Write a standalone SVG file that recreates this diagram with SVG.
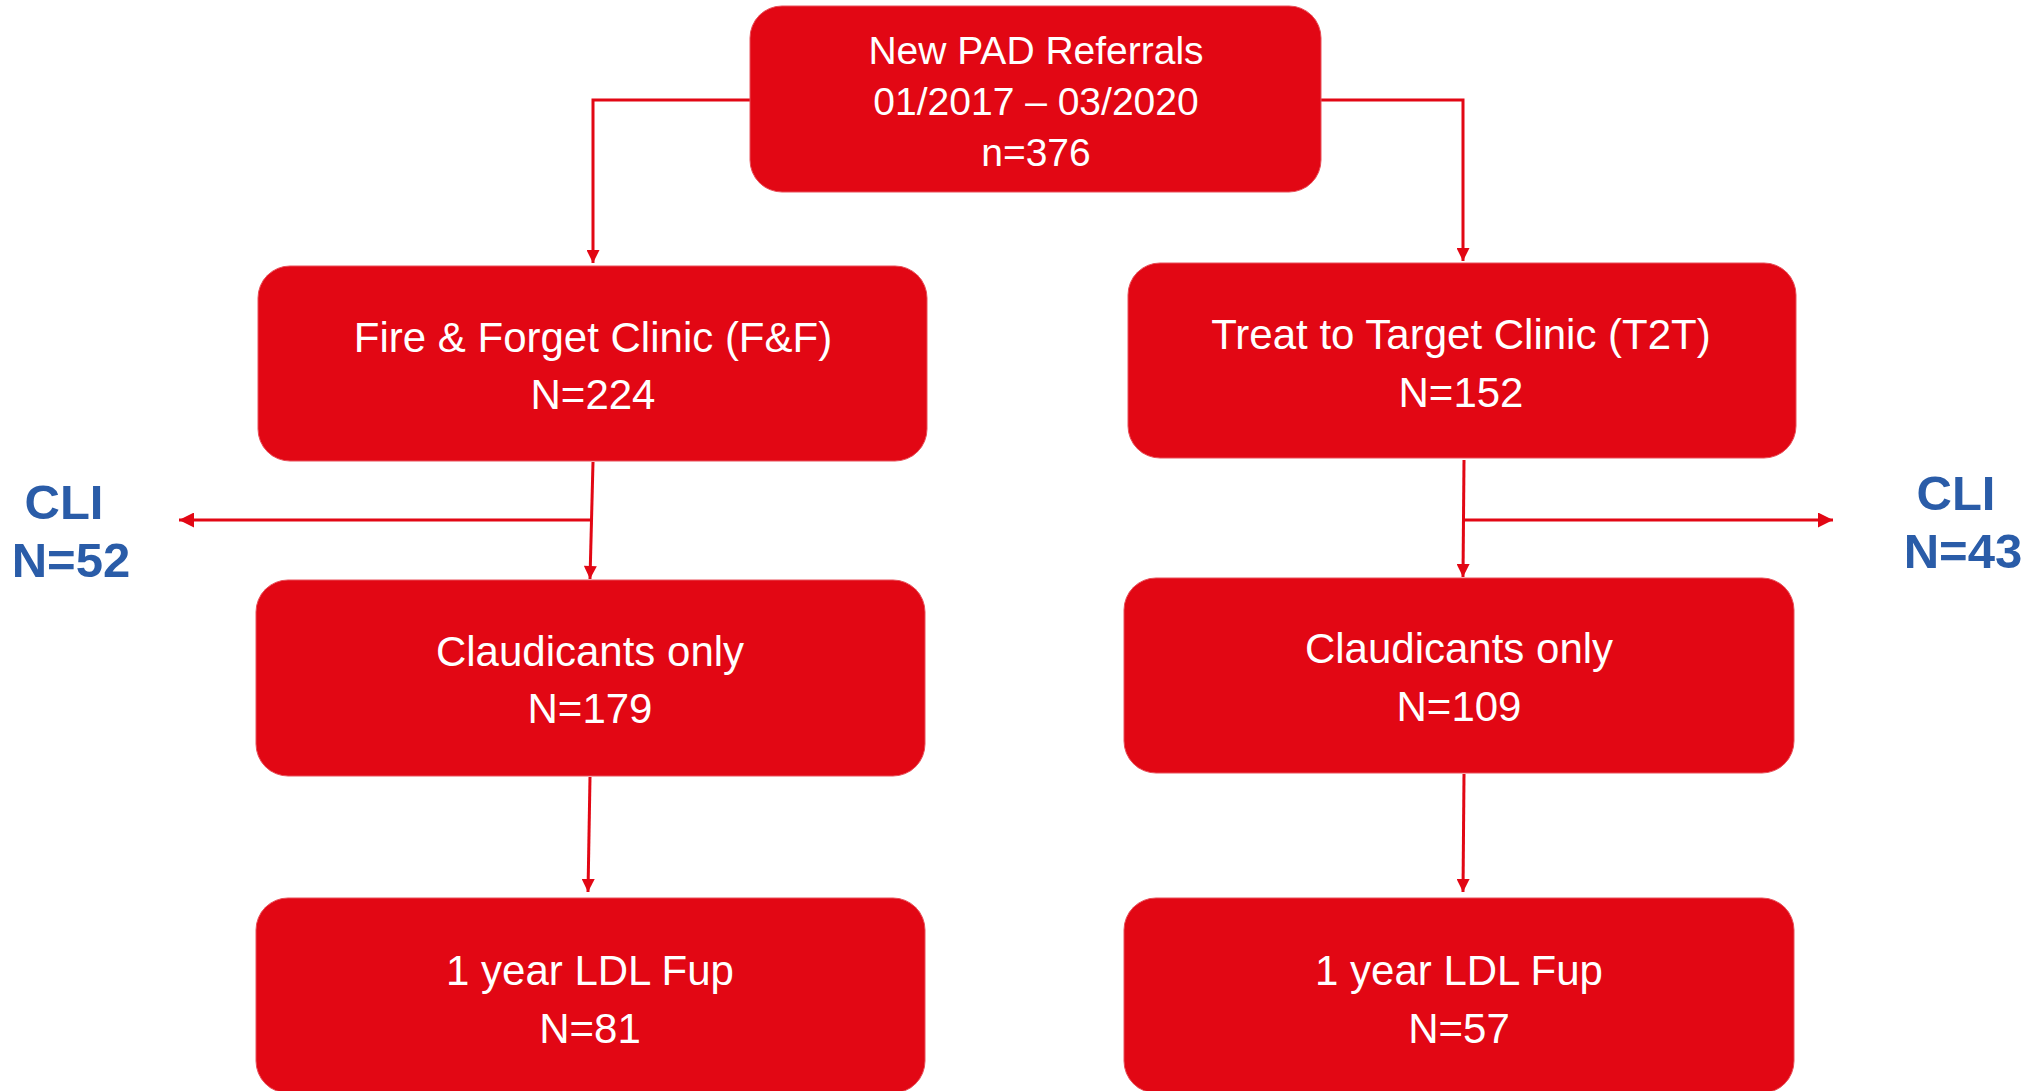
<svg xmlns="http://www.w3.org/2000/svg" width="2035" height="1091" viewBox="0 0 2035 1091">
<defs>
<style>
.box{fill:#E20714;stroke:#E8505A;stroke-width:1}
.t{font-family:"Liberation Sans",Arial,sans-serif;fill:#ffffff;text-anchor:middle;font-size:42px}
.tt{font-size:39px}
.cli{font-family:"Liberation Sans",Arial,sans-serif;fill:#2A5CA8;font-weight:bold;text-anchor:middle;font-size:49px}
.c{fill:none;stroke:#E20714;stroke-width:3}
</style>
<marker id="ah" viewBox="0 0 10 10" refX="10" refY="5" markerWidth="14" markerHeight="13" markerUnits="userSpaceOnUse" orient="auto"><path d="M0,0 L10,5 L0,10 z" fill="#E20714"/></marker>
<marker id="ah2" viewBox="0 0 10 10" refX="10" refY="5" markerWidth="15" markerHeight="15" markerUnits="userSpaceOnUse" orient="auto"><path d="M0,0 L10,5 L0,10 z" fill="#E20714"/></marker>
</defs>
<rect width="2035" height="1091" fill="#ffffff"/>
<g id="connectors">
<path class="c" d="M750,100 H593 V263" marker-end="url(#ah)"/>
<path class="c" d="M1321,100 H1463 V261" marker-end="url(#ah)"/>
<path class="c" d="M593,462 L590,579" marker-end="url(#ah)"/>
<path class="c" d="M591,520 H179" marker-end="url(#ah2)"/>
<path class="c" d="M1464,460 L1463,577" marker-end="url(#ah)"/>
<path class="c" d="M1463,520 H1833" marker-end="url(#ah2)"/>
<path class="c" d="M590,777 L588,892" marker-end="url(#ah)"/>
<path class="c" d="M1464,774 L1463,892" marker-end="url(#ah)"/>
</g>
<g id="n-referrals">
<rect class="box" x="750" y="6" width="571" height="186" rx="32"/>
<text class="t tt" x="1036" y="64">New PAD Referrals</text>
<text class="t tt" x="1036" y="115">01/2017 – 03/2020</text>
<text class="t tt" x="1036" y="166">n=376</text>
</g>
<g id="n-ff">
<rect class="box" x="258" y="266" width="669" height="195" rx="32"/>
<text class="t" x="593" y="352">Fire &amp; Forget Clinic (F&amp;F)</text>
<text class="t" x="593" y="409">N=224</text>
</g>
<g id="n-t2t">
<rect class="box" x="1128" y="263" width="668" height="195" rx="32"/>
<text class="t" x="1461" y="349">Treat to Target Clinic (T2T)</text>
<text class="t" x="1461" y="407">N=152</text>
</g>
<g id="n-claud-left">
<rect class="box" x="256" y="580" width="669" height="196" rx="32"/>
<text class="t" x="590" y="666">Claudicants only</text>
<text class="t" x="590" y="723">N=179</text>
</g>
<g id="n-claud-right">
<rect class="box" x="1124" y="578" width="670" height="195" rx="32"/>
<text class="t" x="1459" y="663">Claudicants only</text>
<text class="t" x="1459" y="721">N=109</text>
</g>
<g id="n-ldl-left">
<rect class="box" x="256" y="898" width="669" height="195" rx="32"/>
<text class="t" x="590" y="985">1 year LDL Fup</text>
<text class="t" x="590" y="1043">N=81</text>
</g>
<g id="n-ldl-right">
<rect class="box" x="1124" y="898" width="670" height="195" rx="32"/>
<text class="t" x="1459" y="985">1 year LDL Fup</text>
<text class="t" x="1459" y="1043">N=57</text>
</g>
<g id="n-cli-left">
<text class="cli" x="64" y="519">CLI</text>
<text class="cli" x="71" y="577">N=52</text>
</g>
<g id="n-cli-right">
<text class="cli" x="1956" y="510">CLI</text>
<text class="cli" x="1963" y="568">N=43</text>
</g>
</svg>
